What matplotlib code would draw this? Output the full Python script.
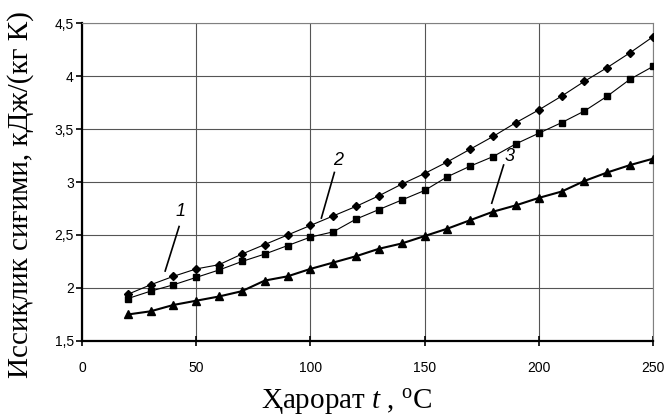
import matplotlib
matplotlib.use("Agg")
import matplotlib.pyplot as plt
from matplotlib.ticker import FuncFormatter

# Харорат, °C
t = [20, 30, 40, 50, 60, 70, 80, 90, 100, 110, 120, 130,
     140, 150, 160, 170, 180, 190, 200, 210, 220, 230, 240, 250]

# Иссиқлик сиғими, кДж/(кг К)
c1 = [1.94, 2.03, 2.11, 2.18, 2.22, 2.32, 2.41, 2.50, 2.59, 2.68, 2.77, 2.87,
      2.98, 3.08, 3.19, 3.31, 3.43, 3.56, 3.68, 3.81, 3.95, 4.08, 4.22, 4.37]
c2 = [1.90, 1.97, 2.03, 2.10, 2.17, 2.25, 2.32, 2.40, 2.48, 2.53, 2.65, 2.74,
      2.83, 2.92, 3.05, 3.15, 3.24, 3.36, 3.46, 3.56, 3.67, 3.81, 3.97, 4.09]
c3 = [1.75, 1.78, 1.84, 1.88, 1.92, 1.97, 2.07, 2.11, 2.18, 2.24, 2.30, 2.37,
      2.42, 2.49, 2.56, 2.64, 2.72, 2.78, 2.85, 2.91, 3.01, 3.09, 3.16, 3.22]

x_ticks = [0, 50, 100, 150, 200, 250]
y_ticks = [1.5, 2, 2.5, 3, 3.5, 4, 4.5]

# номер кривой: (текст x, y), (линия от), (линия до)
nomera = {
    "1": ((43, 2.72), (42.5, 2.58), (36.4, 2.16)),
    "2": ((112, 3.20), (110.5, 3.09), (104.8, 2.66)),
    "3": ((187, 3.24), (184.6, 3.16), (179.4, 2.80)),
}

plt.rcParams["mathtext.fontset"] = "custom"
plt.rcParams["mathtext.rm"] = "Liberation Serif"
plt.rcParams["mathtext.it"] = "Liberation Serif:italic"

serif = ["Liberation Serif", "DejaVu Serif"]

fig = plt.figure(figsize=(6.68, 4.16), dpi=100)
ax = fig.add_axes([0.1228, 0.1803, 0.8547, 0.7644])

ax.plot(t, c1, color="black", lw=0.8, marker="D", ms=4.5, zorder=3)
ax.plot(t, c2, color="black", lw=0.8, marker="s", ms=5, zorder=3)
ax.plot(t, c3, color="black", lw=1.5, marker="^", ms=6, zorder=3)

for nom, (txt, p0, p1) in nomera.items():
    ax.text(txt[0], txt[1], nom, fontsize=13, style="italic",
            family="Liberation Sans", ha="center", va="center")
    ax.plot([p0[0], p1[0]], [p0[1], p1[1]], color="black", lw=1.2)

ax.set_xlim(0, 250)
ax.set_ylim(1.5, 4.5)
ax.set_xticks(x_ticks)
ax.set_yticks(y_ticks)
ax.yaxis.set_major_formatter(FuncFormatter(lambda v, p: f"{v:g}".replace(".", ",")))

ax.grid(True, color="#555555", lw=0.8)
ax.set_axisbelow(True)

for s in ["top", "right"]:
    ax.spines[s].set_color("#808080")
    ax.spines[s].set_linewidth(0.8)
for s in ["left", "bottom"]:
    ax.spines[s].set_color("black")
    ax.spines[s].set_linewidth(1.6)

ax.tick_params(axis="y", direction="out", length=4, width=1.2, labelsize=10, pad=2)
ax.tick_params(axis="x", direction="inout", length=7, width=1.2, labelsize=10, pad=11)
for lab in ax.get_xticklabels() + ax.get_yticklabels():
    lab.set_family("Liberation Sans")

ax.set_xlabel(r"Ҳарорат $t$ , $^{\mathrm{o}}$C", fontsize=21, family=serif)
ax.set_ylabel("Иссиқлик сиғими, кДж/(кг К)", fontsize=21, family=serif)
ax.xaxis.set_label_coords(0.464, -0.145)
ax.yaxis.set_label_coords(-0.085, 0.462)

fig.savefig("out.png", dpi=100)
